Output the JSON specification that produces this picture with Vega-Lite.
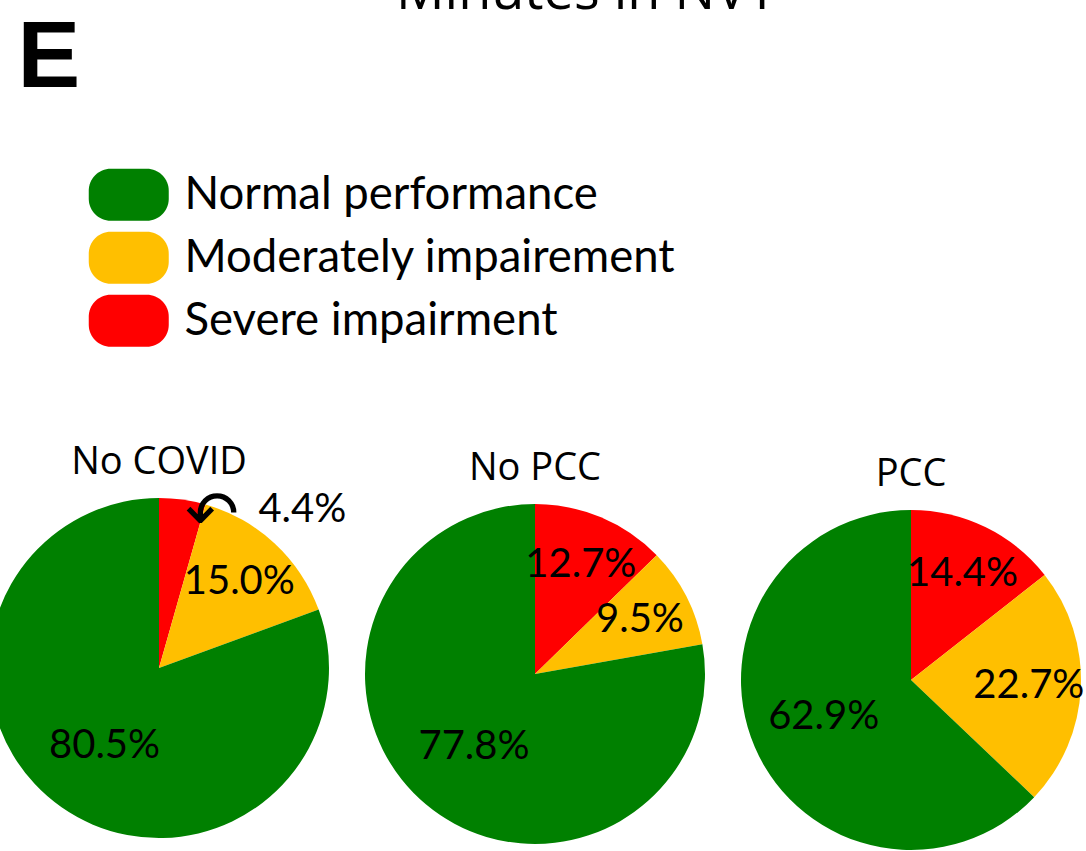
{
  "$schema": "https://vega.github.io/schema/vega-lite/v6.json",
  "width": 1086,
  "height": 851,
  "autosize": "none",
  "padding": 0,
  "data": {
    "values": [
      {"group": "No COVID", "category": "Severe impairment", "value": 4.4},
      {"group": "No COVID", "category": "Moderately impairement", "value": 15.0},
      {"group": "No COVID", "category": "Normal performance", "value": 80.5},
      {"group": "No PCC", "category": "Severe impairment", "value": 12.7},
      {"group": "No PCC", "category": "Moderately impairement", "value": 9.5},
      {"group": "No PCC", "category": "Normal performance", "value": 77.8},
      {"group": "PCC", "category": "Severe impairment", "value": 14.4},
      {"group": "PCC", "category": "Moderately impairement", "value": 22.7},
      {"group": "PCC", "category": "Normal performance", "value": 62.9}
    ]
  },
  "transform": [
    {"calculate": "indexof(['Severe impairment','Moderately impairement','Normal performance'], datum.category)", "as": "rank"},
    {"stack": "value", "groupby": ["group"], "sort": [{"field": "rank", "order": "ascending"}], "offset": "normalize", "as": ["v0", "v1"]},
    {"calculate": "(datum.v0 + datum.v1) / 2", "as": "mid"},
    {"calculate": "format(datum.value, '.1f') + '%'", "as": "label"}
  ],
  "encoding": {
    "x": {
      "field": "group", "type": "nominal",
      "scale": {"type": "point", "range": [159, 911], "padding": 0},
      "axis": {"orient": "top", "labels": false, "ticks": false, "domain": false, "grid": false,
               "title": "Minutes in NVT", "titleFont": "Open Sans", "titleFontSize": 54, "titleFontWeight": "normal",
               "titleColor": "black", "titleX": 586, "titleY": 8, "titleBaseline": "alphabetic", "titleAlign": "center"}
    },
    "y": {
      "field": "group", "type": "nominal",
      "scale": {"type": "point", "range": [668, 680], "padding": 0},
      "axis": {"orient": "left", "labels": false, "ticks": false, "domain": false, "grid": false,
               "title": "E", "titleFont": "Liberation Sans", "titleFontSize": 94, "titleFontWeight": "bold",
               "titleColor": "black", "titleAngle": 0, "titleX": 17, "titleY": 86, "titleBaseline": "alphabetic", "titleAlign": "left"}
    }
  },
  "layer": [
    {
      "mark": {"type": "arc", "outerRadius": 170},
      "encoding": {
        "theta": {"field": "v0", "type": "quantitative", "scale": {"domain": [0, 1]}},
        "theta2": {"field": "v1"},
        "color": {
          "field": "category", "type": "nominal",
          "scale": {"domain": ["Normal performance", "Moderately impairement", "Severe impairment"],
                    "range": ["#008000", "#FFBF00", "#FF0000"]},
          "legend": {
            "orient": "none", "legendX": 106, "legendY": 172, "title": null,
            "symbolType": "M -0.9,-1.3 L 0.9,-1.3 A 1.1 1.1 0 0 1 2,-0.2 L 2,0.2 A 1.1 1.1 0 0 1 0.9,1.3 L -0.9,1.3 A 1.1 1.1 0 0 1 -2,0.2 L -2,-0.2 A 1.1 1.1 0 0 1 -0.9,-1.3 Z",
            "symbolSize": 1600, "symbolStrokeWidth": 0, "symbolOpacity": 1,
            "labelFont": "Lato", "labelFontSize": 45.5, "labelColor": "black", "labelOffset": 33,
            "rowPadding": 10, "labelLimit": 800
          }
        }
      }
    },
    {
      "transform": [{"filter": "datum.category === 'Normal performance'"}],
      "mark": {"type": "text", "radius": 95, "font": "Lato", "fontSize": 40, "color": "black"},
      "encoding": {
        "theta": {"field": "mid", "type": "quantitative"},
        "text": {"field": "label"}
      }
    },
    {
      "transform": [{"filter": "datum.category !== 'Normal performance' && datum.value >= 5"}],
      "mark": {"type": "text", "radius": 118, "font": "Lato", "fontSize": 40, "color": "black"},
      "encoding": {
        "theta": {"field": "mid", "type": "quantitative"},
        "text": {"field": "label"}
      }
    },
    {
      "transform": [{"filter": "datum.value < 5"}],
      "mark": {"type": "text", "radius": 213, "thetaOffset": 0.6, "font": "Lato", "fontSize": 40, "color": "black"},
      "encoding": {
        "theta": {"field": "mid", "type": "quantitative"},
        "text": {"field": "label"}
      }
    },
    {
      "transform": [{"filter": "datum.value < 5"}],
      "mark": {"type": "text", "radius": 160, "thetaOffset": 0.2, "font": "DejaVu Sans", "fontSize": 64, "color": "black", "text": "↶"},
      "encoding": {
        "theta": {"field": "mid", "type": "quantitative"}
      }
    },
    {
      "transform": [{"filter": "datum.category === 'Normal performance'"}],
      "mark": {"type": "text", "radius": 194, "theta": 0, "baseline": "alphabetic", "font": "Open Sans", "fontSize": 38, "color": "black"},
      "encoding": {
        "text": {"field": "group"}
      }
    }
  ],
  "config": {
    "view": {"stroke": null}
  }
}
